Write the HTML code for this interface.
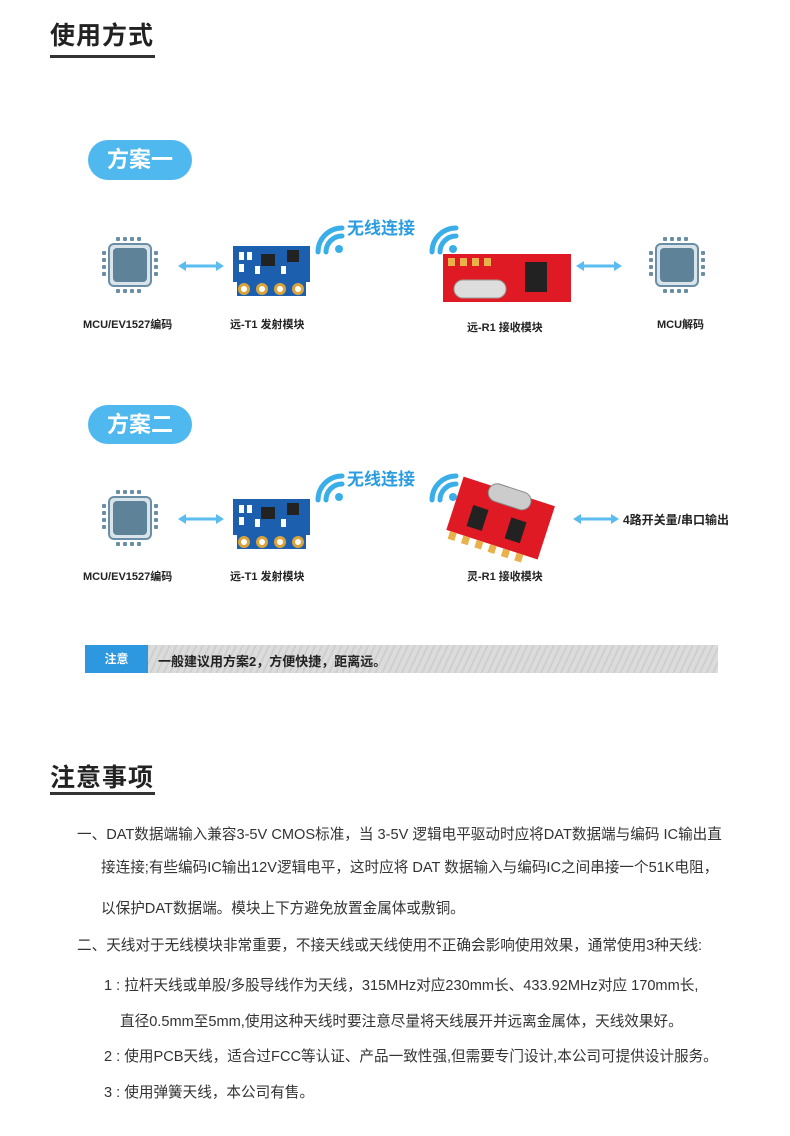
<!DOCTYPE html>
<html><head><meta charset="utf-8"><style>
body{margin:0;width:790px;height:1136px;background:#fff;position:relative;font-family:"Liberation Sans","Noto Sans CJK SC",sans-serif;color:#333;overflow:hidden}
.a{position:absolute;white-space:nowrap}
.h{font-size:25px;font-weight:bold;color:#222;letter-spacing:1px}
.ul{position:absolute;height:3px;background:#333}
.pill{position:absolute;background:#4fb9ef;border-radius:20px;color:#fff;font-weight:bold;font-size:22px;text-align:center}
.lbl{font-size:11px;font-weight:bold;color:#222}
.wl{font-size:17px;font-weight:bold;color:#2a9de0}
.p{font-size:14.6px;color:#333}
</style></head><body>
<svg width="0" height="0" style="position:absolute"><defs>
<g id="chip"><g fill="#6a8ea5"><rect x="-14" y="-28" width="4" height="4" rx="1"/><rect x="-7" y="-28" width="4" height="4" rx="1"/><rect x="0" y="-28" width="4" height="4" rx="1"/><rect x="7" y="-28" width="4" height="4" rx="1"/><rect x="-14" y="24" width="4" height="4" rx="1"/><rect x="-7" y="24" width="4" height="4" rx="1"/><rect x="0" y="24" width="4" height="4" rx="1"/><rect x="7" y="24" width="4" height="4" rx="1"/><rect y="-14" x="-28" width="4" height="4" rx="1"/><rect y="-7" x="-28" width="4" height="4" rx="1"/><rect y="0" x="-28" width="4" height="4" rx="1"/><rect y="7" x="-28" width="4" height="4" rx="1"/><rect y="-14" x="24" width="4" height="4" rx="1"/><rect y="-7" x="24" width="4" height="4" rx="1"/><rect y="0" x="24" width="4" height="4" rx="1"/><rect y="7" x="24" width="4" height="4" rx="1"/></g>
<rect x="-21" y="-21" width="42" height="42" rx="5" fill="#d8e3ea" stroke="#6a8ea5" stroke-width="2"/><rect x="-17" y="-17" width="34" height="34" rx="4" fill="#5e8298"/></g>
<g id="wifi" fill="none" stroke="#3aaee8" stroke-linecap="round"><path d="M4 28 A24 24 0 0 1 28 4" stroke-width="5"/><path d="M12 28 A16 16 0 0 1 28 12" stroke-width="5"/><circle cx="25" cy="25" r="4" fill="#3aaee8" stroke="none"/></g>
<g id="arr"><line x1="6" y1="5" x2="40" y2="5" stroke="#5bbcf0" stroke-width="3"/><path d="M0 5 L8 0 L8 10Z M46 5 L38 0 L38 10Z" fill="#5bbcf0"/></g>
<g id="t1"><rect x="0" y="0" width="77" height="36" fill="#1c5fae"/><rect x="4" y="34" width="69" height="16" fill="#1c5fae"/><g fill="#fff"><rect x="6" y="6" width="5" height="8"/><rect x="14" y="6" width="5" height="8"/><rect x="6" y="18" width="5" height="8"/><rect x="22" y="20" width="5" height="8"/><rect x="48" y="20" width="5" height="8"/></g><rect x="28" y="8" width="14" height="12" fill="#222"/><rect x="54" y="4" width="12" height="12" fill="#222"/><g fill="#d9a43a"><circle cx="11" cy="43" r="6"/><circle cx="29" cy="43" r="6"/><circle cx="47" cy="43" r="6"/><circle cx="65" cy="43" r="6"/></g><g fill="#fff"><circle cx="11" cy="43" r="3"/><circle cx="29" cy="43" r="3"/><circle cx="47" cy="43" r="3"/><circle cx="65" cy="43" r="3"/></g></g>
</defs></svg>

<div class="a h" style="left:50px;top:16px">使用方式</div>
<div class="ul" style="left:50px;top:55px;width:105px"></div>

<div class="pill" style="left:88px;top:140px;width:104px;height:40px;line-height:40px">方案一</div>
<svg class="a" style="left:0;top:0" width="790" height="640">
<use href="#chip" x="130" y="265"/><use href="#chip" x="677" y="265"/>
<use href="#arr" x="178" y="261"/><use href="#arr" x="576" y="261"/>
<use href="#t1" x="233" y="246"/>
<use href="#wifi" x="314" y="224"/><use href="#wifi" x="428" y="224"/>
<rect x="443" y="254" width="128" height="48" fill="#e01a24"/>
<rect x="454" y="280" width="52" height="18" rx="9" fill="#ddd" stroke="#999"/>
<rect x="525" y="262" width="22" height="30" fill="#222"/>
<g fill="#e8b14a"><rect x="448" y="258" width="7" height="8"/><rect x="460" y="258" width="7" height="8"/><rect x="472" y="258" width="7" height="8"/><rect x="484" y="258" width="7" height="8"/></g>
<use href="#chip" x="130" y="518"/>
<use href="#arr" x="178" y="514"/><use href="#arr" x="573" y="514"/>
<use href="#t1" x="233" y="499"/>
<use href="#wifi" x="314" y="472"/><use href="#wifi" x="428" y="472"/>
<g transform="translate(500,520) rotate(18)"><rect x="-48" y="-30" width="96" height="56" fill="#e01a24"/><rect x="-20" y="-34" width="44" height="18" rx="9" fill="#ccc" stroke="#888"/><rect x="-30" y="-6" width="16" height="22" fill="#222"/><rect x="10" y="-6" width="16" height="22" fill="#222"/><g fill="#e8b14a"><rect x="-44" y="26" width="7" height="8"/><rect x="-30" y="26" width="7" height="8"/><rect x="-16" y="26" width="7" height="8"/><rect x="-2" y="26" width="7" height="8"/><rect x="12" y="26" width="7" height="8"/><rect x="26" y="26" width="7" height="8"/></g></g>
</svg>
<div class="a wl" style="left:347px;top:214px">无线连接</div>
<div class="a lbl" style="left:83px;top:316px">MCU/EV1527编码</div>
<div class="a lbl" style="left:230px;top:316px">远-T1 发射模块</div>
<div class="a lbl" style="left:467px;top:319px">远-R1 接收模块</div>
<div class="a lbl" style="left:657px;top:316px">MCU解码</div>

<div class="pill" style="left:88px;top:405px;width:104px;height:39px;line-height:39px">方案二</div>
<div class="a wl" style="left:347px;top:465px">无线连接</div>
<div class="a lbl" style="left:623px;top:511px;font-size:12px">4路开关量/串口输出</div>
<div class="a lbl" style="left:83px;top:568px">MCU/EV1527编码</div>
<div class="a lbl" style="left:230px;top:568px">远-T1 发射模块</div>
<div class="a lbl" style="left:467px;top:568px">灵-R1 接收模块</div>

<div class="a" style="left:85px;top:645px;width:633px;height:28px;background:repeating-linear-gradient(115deg,#dcdcdc 0 4px,#cfcfcf 4px 6px)"></div>
<div class="a" style="left:85px;top:645px;width:63px;height:28px;background:#2d97e0;color:#fff;font-size:12px;font-weight:bold;text-align:center;line-height:28px">注意</div>
<div class="a lbl" style="left:158px;top:651px;font-size:13px">一般建议用方案2，方便快捷，距离远。</div>

<div class="a h" style="left:50px;top:758px">注意事项</div>
<div class="ul" style="left:50px;top:792px;width:105px"></div>

<div class="a p" style="left:77px;top:823px">一、DAT数据端输入兼容3-5V CMOS标准，当 3-5V 逻辑电平驱动时应将DAT数据端与编码 IC输出直</div>
<div class="a p" style="left:101px;top:856px">接连接;有些编码IC输出12V逻辑电平，这时应将 DAT 数据输入与编码IC之间串接一个51K电阻，</div>
<div class="a p" style="left:101px;top:897px">以保护DAT数据端。模块上下方避免放置金属体或敷铜。</div>
<div class="a p" style="left:77px;top:934px">二、天线对于无线模块非常重要，不接天线或天线使用不正确会影响使用效果，通常使用3种天线:</div>
<div class="a p" style="left:104px;top:974px">1 : 拉杆天线或单股/多股导线作为天线，315MHz对应230mm长、433.92MHz对应 170mm长,</div>
<div class="a p" style="left:120px;top:1010px">直径0.5mm至5mm,使用这种天线时要注意尽量将天线展开并远离金属体，天线效果好。</div>
<div class="a p" style="left:104px;top:1045px">2 : 使用PCB天线，适合过FCC等认证、产品一致性强,但需要专门设计,本公司可提供设计服务。</div>
<div class="a p" style="left:104px;top:1081px">3 : 使用弹簧天线，本公司有售。</div>
</body></html>
